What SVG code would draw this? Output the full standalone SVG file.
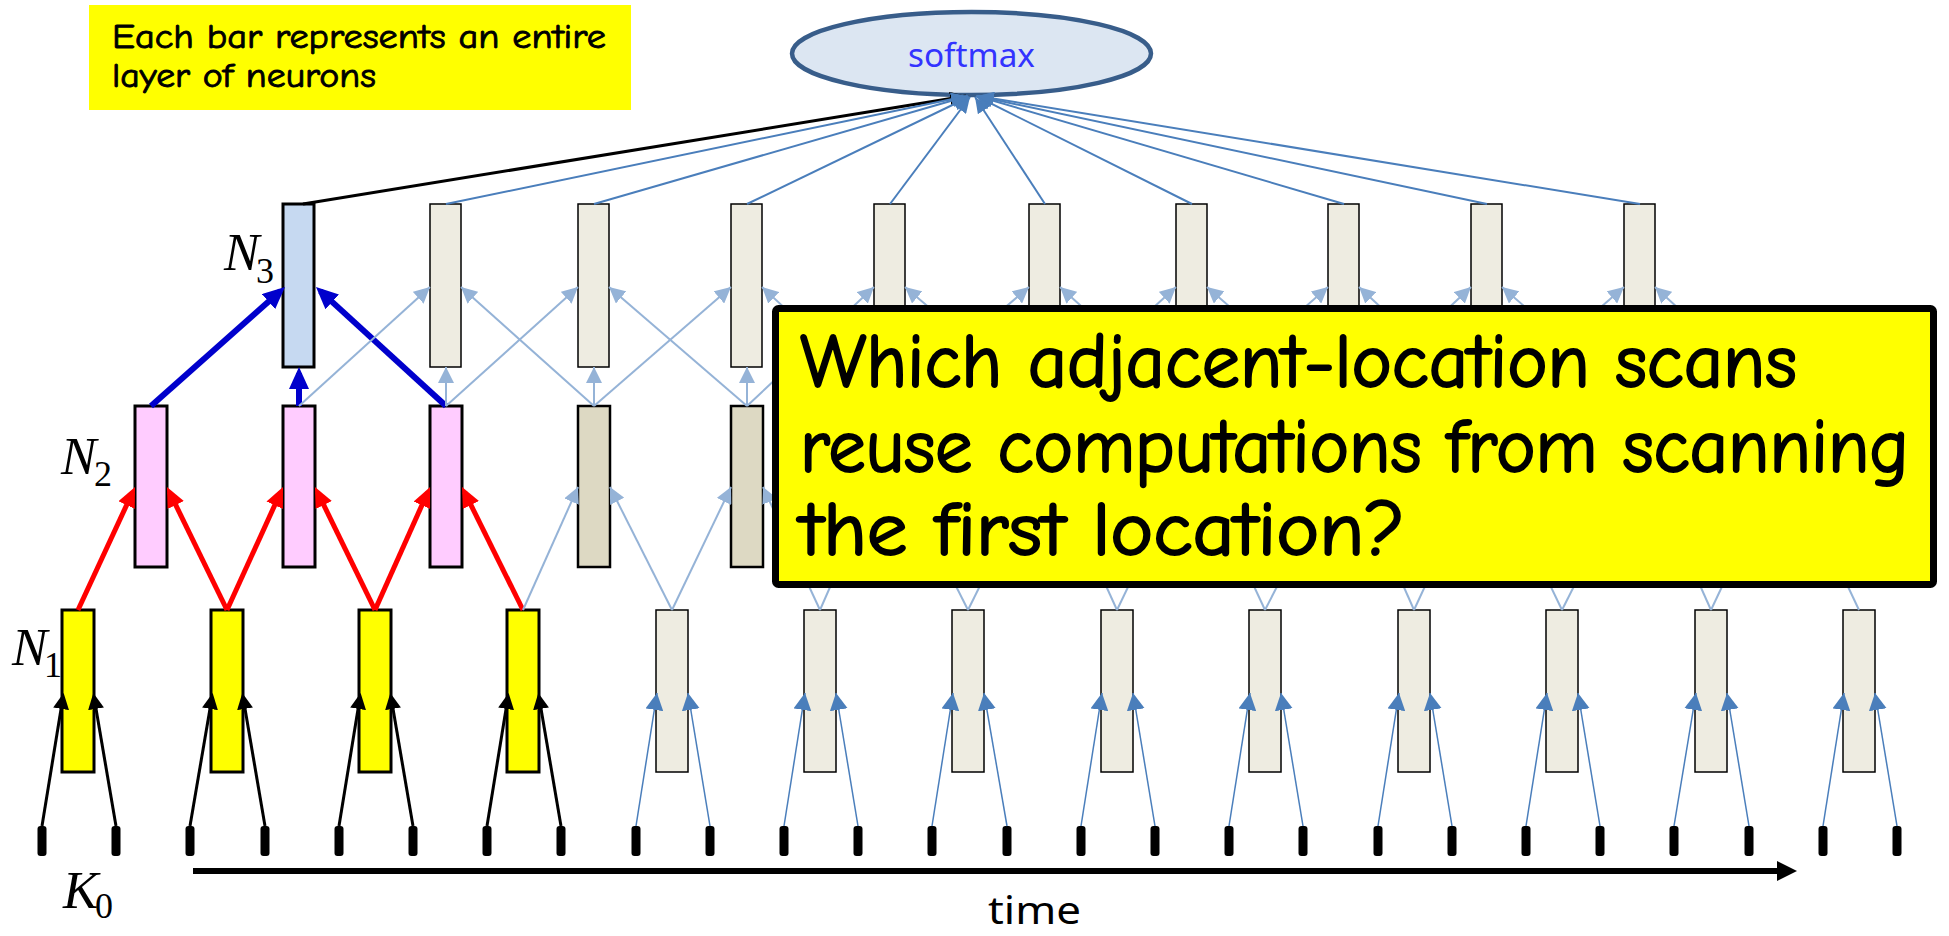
<svg xmlns="http://www.w3.org/2000/svg" width="1949" height="936" viewBox="0 0 1949 936">
<style>
.hl{stroke:#000;stroke-width:3}
.y{fill:#ffff00}
.p{fill:#ffccff}
.b{fill:#c6d9f1}
.bg1{fill:#eeece1;stroke:#000;stroke-width:1.5}
.bg2{fill:#ddd9c3;stroke:#000;stroke-width:2.5}
.tick{fill:#000}
line{fill:none;stroke-linecap:butt}
.ik{stroke:#000;stroke-width:3;marker-end:url(#ahK)}
.ib{stroke:#4a7ebb;stroke-width:1.5;marker-end:url(#ahIn)}
.red{stroke:#ff0000;stroke-width:5;marker-end:url(#ahRed)}
.blu{stroke:#0000cc;stroke-width:6;marker-end:url(#ahBlue)}
.lt{stroke:#95b3d7;stroke-width:2;marker-end:url(#ahLight)}
.sm{stroke:#4a7ebb;stroke-width:2;marker-end:url(#ahSm)}
.smk{stroke:#000;stroke-width:3;marker-end:url(#ahSmK)}
.comic{font-family:'Comic Sans MS','Comic Neue',Lato,'Noto Sans',sans-serif;fill:#000;stroke:#000}
.math{font-family:'Liberation Serif','DejaVu Serif',serif;font-style:italic;font-size:53px;fill:#000}
.sub{font-style:normal;font-size:36px}
</style>
<defs>
<marker id="ahK" markerUnits="userSpaceOnUse" markerWidth="16" markerHeight="16" refX="12" refY="8" orient="auto"><path d="M0,0 L16,8 L0,16 z" fill="#000"/></marker>
<marker id="ahIn" markerUnits="userSpaceOnUse" markerWidth="17" markerHeight="18" refX="17" refY="9" orient="auto"><path d="M0,0 L17,9 L0,18 z" fill="#4a7ebb"/></marker>
<marker id="ahLight" markerUnits="userSpaceOnUse" markerWidth="16" markerHeight="16" refX="16" refY="8" orient="auto"><path d="M0,0 L16,8 L0,16 z" fill="#95b3d7"/></marker>
<marker id="ahRed" markerUnits="userSpaceOnUse" markerWidth="20" markerHeight="18" refX="14" refY="9" orient="auto"><path d="M0,0 L20,9 L0,18 z" fill="#ff0000"/></marker>
<marker id="ahBlue" markerUnits="userSpaceOnUse" markerWidth="22" markerHeight="20" refX="16" refY="10" orient="auto"><path d="M0,0 L22,10 L0,20 z" fill="#0000cc"/></marker>
<marker id="ahSm" markerUnits="userSpaceOnUse" markerWidth="16" markerHeight="14" refX="16" refY="7" orient="auto"><path d="M0,0 L16,7 L0,14 z" fill="#4a7ebb"/></marker>
<marker id="ahSmK" markerUnits="userSpaceOnUse" markerWidth="16" markerHeight="14" refX="16" refY="7" orient="auto"><path d="M0,0 L16,7 L0,14 z" fill="#000"/></marker>
<marker id="ahTime" markerUnits="userSpaceOnUse" markerWidth="20" markerHeight="20" refX="14" refY="10" orient="auto"><path d="M0,0 L20,10 L0,20 z" fill="#000"/></marker>
</defs>
<rect width="1949" height="936" fill="#fff"/>

<g id="note">
<rect x="89" y="5" width="542" height="105" fill="#ffff00"/>
<text class="comic" font-size="34" stroke-width="0.9" x="112" y="48" textLength="494" lengthAdjust="spacingAndGlyphs">Each bar represents an entire</text>
<text class="comic" font-size="34" stroke-width="0.9" x="112" y="87" textLength="264" lengthAdjust="spacingAndGlyphs">layer of neurons</text>
</g>

<g id="softmax">
<ellipse cx="971.5" cy="53.5" rx="179.5" ry="41.5" fill="#dce6f2" stroke="#385d8a" stroke-width="4.5"/>
<text x="908" y="67" font-family="'Noto Sans','Open Sans',sans-serif" font-size="33" fill="#3333ff" textLength="127" lengthAdjust="spacingAndGlyphs">softmax</text>
</g>

<g id="inputs">
<g id="k0"><rect class="tick" x="37.5" y="826" width="9" height="30" rx="3"/></g>
<g id="k1"><rect class="tick" x="111.5" y="826" width="9" height="30" rx="3"/></g>
<g id="k2"><rect class="tick" x="185.5" y="826" width="9" height="30" rx="3"/></g>
<g id="k3"><rect class="tick" x="260.5" y="826" width="9" height="30" rx="3"/></g>
<g id="k4"><rect class="tick" x="334.5" y="826" width="9" height="30" rx="3"/></g>
<g id="k5"><rect class="tick" x="408.5" y="826" width="9" height="30" rx="3"/></g>
<g id="k6"><rect class="tick" x="482.5" y="826" width="9" height="30" rx="3"/></g>
<g id="k7"><rect class="tick" x="556.5" y="826" width="9" height="30" rx="3"/></g>
<g id="k8"><rect class="tick" x="631.5" y="826" width="9" height="30" rx="3"/></g>
<g id="k9"><rect class="tick" x="705.5" y="826" width="9" height="30" rx="3"/></g>
<g id="k10"><rect class="tick" x="779.5" y="826" width="9" height="30" rx="3"/></g>
<g id="k11"><rect class="tick" x="853.5" y="826" width="9" height="30" rx="3"/></g>
<g id="k12"><rect class="tick" x="927.5" y="826" width="9" height="30" rx="3"/></g>
<g id="k13"><rect class="tick" x="1002.5" y="826" width="9" height="30" rx="3"/></g>
<g id="k14"><rect class="tick" x="1076.5" y="826" width="9" height="30" rx="3"/></g>
<g id="k15"><rect class="tick" x="1150.5" y="826" width="9" height="30" rx="3"/></g>
<g id="k16"><rect class="tick" x="1224.5" y="826" width="9" height="30" rx="3"/></g>
<g id="k17"><rect class="tick" x="1298.5" y="826" width="9" height="30" rx="3"/></g>
<g id="k18"><rect class="tick" x="1373.5" y="826" width="9" height="30" rx="3"/></g>
<g id="k19"><rect class="tick" x="1447.5" y="826" width="9" height="30" rx="3"/></g>
<g id="k20"><rect class="tick" x="1521.5" y="826" width="9" height="30" rx="3"/></g>
<g id="k21"><rect class="tick" x="1595.5" y="826" width="9" height="30" rx="3"/></g>
<g id="k22"><rect class="tick" x="1669.5" y="826" width="9" height="30" rx="3"/></g>
<g id="k23"><rect class="tick" x="1744.5" y="826" width="9" height="30" rx="3"/></g>
<g id="k24"><rect class="tick" x="1818.5" y="826" width="9" height="30" rx="3"/></g>
<g id="k25"><rect class="tick" x="1892.5" y="826" width="9" height="30" rx="3"/></g>
</g>

<g id="layer1">
<g id="n1-0"><rect class="y hl" x="62" y="610" width="32" height="162"/></g>
<g id="n1-1"><rect class="y hl" x="211" y="610" width="32" height="162"/></g>
<g id="n1-2"><rect class="y hl" x="359" y="610" width="32" height="162"/></g>
<g id="n1-3"><rect class="y hl" x="507" y="610" width="32" height="162"/></g>
<g id="n1-4"><rect class="bg1" x="656" y="610" width="32" height="162"/></g>
<g id="n1-5"><rect class="bg1" x="804" y="610" width="32" height="162"/></g>
<g id="n1-6"><rect class="bg1" x="952" y="610" width="32" height="162"/></g>
<g id="n1-7"><rect class="bg1" x="1101" y="610" width="32" height="162"/></g>
<g id="n1-8"><rect class="bg1" x="1249" y="610" width="32" height="162"/></g>
<g id="n1-9"><rect class="bg1" x="1398" y="610" width="32" height="162"/></g>
<g id="n1-10"><rect class="bg1" x="1546" y="610" width="32" height="162"/></g>
<g id="n1-11"><rect class="bg1" x="1695" y="610" width="32" height="162"/></g>
<g id="n1-12"><rect class="bg1" x="1843" y="610" width="32" height="162"/></g>
</g>

<g id="layer2">
<g id="n2-0"><rect class="p hl" x="135" y="406" width="32" height="161"/></g>
<g id="n2-1"><rect class="p hl" x="283" y="406" width="32" height="161"/></g>
<g id="n2-2"><rect class="p hl" x="430" y="406" width="32" height="161"/></g>
<g id="n2-3"><rect class="bg2" x="578" y="406" width="32" height="161"/></g>
<g id="n2-4"><rect class="bg2" x="731" y="406" width="32" height="161"/></g>
<g id="n2-5"><rect class="bg2" x="874" y="406" width="32" height="161"/></g>
<g id="n2-6"><rect class="bg2" x="1029" y="406" width="32" height="161"/></g>
<g id="n2-7"><rect class="bg2" x="1176" y="406" width="32" height="161"/></g>
<g id="n2-8"><rect class="bg2" x="1328" y="406" width="32" height="161"/></g>
<g id="n2-9"><rect class="bg2" x="1471" y="406" width="32" height="161"/></g>
<g id="n2-10"><rect class="bg2" x="1624" y="406" width="32" height="161"/></g>
<g id="n2-11"><rect class="bg2" x="1769" y="406" width="32" height="161"/></g>
</g>

<g id="layer3">
<g id="n3-0"><rect class="b hl" x="283" y="204" width="31" height="163"/></g>
<g id="n3-1"><rect class="bg1" x="430" y="204" width="31" height="163"/></g>
<g id="n3-2"><rect class="bg1" x="578" y="204" width="31" height="163"/></g>
<g id="n3-3"><rect class="bg1" x="731" y="204" width="31" height="163"/></g>
<g id="n3-4"><rect class="bg1" x="874" y="204" width="31" height="163"/></g>
<g id="n3-5"><rect class="bg1" x="1029" y="204" width="31" height="163"/></g>
<g id="n3-6"><rect class="bg1" x="1176" y="204" width="31" height="163"/></g>
<g id="n3-7"><rect class="bg1" x="1328" y="204" width="31" height="163"/></g>
<g id="n3-8"><rect class="bg1" x="1471" y="204" width="31" height="163"/></g>
<g id="n3-9"><rect class="bg1" x="1624" y="204" width="31" height="163"/></g>
</g>

<g id="connectors">
<line class="ik" x1="42" y1="826" x2="63" y2="697"/>
<line class="ik" x1="116" y1="826" x2="94" y2="697"/>
<line class="ik" x1="190" y1="826" x2="212" y2="697"/>
<line class="ik" x1="265" y1="826" x2="243" y2="697"/>
<line class="ik" x1="339" y1="826" x2="360" y2="697"/>
<line class="ik" x1="413" y1="826" x2="391" y2="697"/>
<line class="ik" x1="487" y1="826" x2="508" y2="697"/>
<line class="ik" x1="561" y1="826" x2="539" y2="697"/>
<line class="ib" x1="636" y1="826" x2="657" y2="693"/>
<line class="ib" x1="710" y1="826" x2="688" y2="693"/>
<line class="ib" x1="784" y1="826" x2="805" y2="693"/>
<line class="ib" x1="858" y1="826" x2="836" y2="693"/>
<line class="ib" x1="932" y1="826" x2="953" y2="693"/>
<line class="ib" x1="1007" y1="826" x2="984" y2="693"/>
<line class="ib" x1="1081" y1="826" x2="1102" y2="693"/>
<line class="ib" x1="1155" y1="826" x2="1133" y2="693"/>
<line class="ib" x1="1229" y1="826" x2="1250" y2="693"/>
<line class="ib" x1="1303" y1="826" x2="1281" y2="693"/>
<line class="ib" x1="1378" y1="826" x2="1399" y2="693"/>
<line class="ib" x1="1452" y1="826" x2="1430" y2="693"/>
<line class="ib" x1="1526" y1="826" x2="1547" y2="693"/>
<line class="ib" x1="1600" y1="826" x2="1578" y2="693"/>
<line class="ib" x1="1674" y1="826" x2="1696" y2="693"/>
<line class="ib" x1="1749" y1="826" x2="1727" y2="693"/>
<line class="ib" x1="1823" y1="826" x2="1844" y2="693"/>
<line class="ib" x1="1897" y1="826" x2="1875" y2="693"/>
<line class="red" x1="78" y1="610" x2="132.5" y2="492.4"/>
<line class="red" x1="227" y1="610" x2="169.6" y2="492.4"/>
<line class="red" x1="227" y1="610" x2="280.5" y2="492.5"/>
<line class="red" x1="375" y1="610" x2="317.6" y2="492.4"/>
<line class="red" x1="375" y1="610" x2="427.6" y2="492.5"/>
<line class="red" x1="523" y1="610" x2="464.7" y2="492.4"/>
<line class="lt" x1="523" y1="610" x2="578" y2="487"/>
<line class="lt" x1="672" y1="610" x2="610" y2="487"/>
<line class="lt" x1="672" y1="610" x2="731" y2="487"/>
<line class="lt" x1="820" y1="610" x2="763" y2="487"/>
<line class="lt" x1="820" y1="610" x2="874" y2="487"/>
<line class="lt" x1="968" y1="610" x2="906" y2="487"/>
<line class="lt" x1="968" y1="610" x2="1029" y2="487"/>
<line class="lt" x1="1117" y1="610" x2="1061" y2="487"/>
<line class="lt" x1="1117" y1="610" x2="1176" y2="487"/>
<line class="lt" x1="1265" y1="610" x2="1208" y2="487"/>
<line class="lt" x1="1265" y1="610" x2="1328" y2="487"/>
<line class="lt" x1="1414" y1="610" x2="1360" y2="487"/>
<line class="lt" x1="1414" y1="610" x2="1471" y2="487"/>
<line class="lt" x1="1562" y1="610" x2="1503" y2="487"/>
<line class="lt" x1="1562" y1="610" x2="1624" y2="487"/>
<line class="lt" x1="1711" y1="610" x2="1656" y2="487"/>
<line class="lt" x1="1711" y1="610" x2="1769" y2="487"/>
<line class="lt" x1="1859" y1="610" x2="1801" y2="487"/>
<line class="blu" x1="151" y1="406" x2="280.5" y2="291"/>
<line class="blu" x1="299" y1="406" x2="299" y2="373"/>
<line class="blu" x1="446" y1="406" x2="320.4" y2="291.1"/>
<line class="lt" x1="299" y1="406" x2="430" y2="287"/>
<line class="lt" x1="446" y1="406" x2="446" y2="367"/>
<line class="lt" x1="594" y1="406" x2="461" y2="287"/>
<line class="lt" x1="446" y1="406" x2="578" y2="287"/>
<line class="lt" x1="594" y1="406" x2="594" y2="367"/>
<line class="lt" x1="747" y1="406" x2="609" y2="287"/>
<line class="lt" x1="594" y1="406" x2="731" y2="287"/>
<line class="lt" x1="747" y1="406" x2="747" y2="367"/>
<line class="lt" x1="890" y1="406" x2="762" y2="287"/>
<line class="lt" x1="747" y1="406" x2="874" y2="287"/>
<line class="lt" x1="890" y1="406" x2="890" y2="367"/>
<line class="lt" x1="1045" y1="406" x2="905" y2="287"/>
<line class="lt" x1="890" y1="406" x2="1029" y2="287"/>
<line class="lt" x1="1045" y1="406" x2="1045" y2="367"/>
<line class="lt" x1="1192" y1="406" x2="1060" y2="287"/>
<line class="lt" x1="1045" y1="406" x2="1176" y2="287"/>
<line class="lt" x1="1192" y1="406" x2="1192" y2="367"/>
<line class="lt" x1="1344" y1="406" x2="1207" y2="287"/>
<line class="lt" x1="1192" y1="406" x2="1328" y2="287"/>
<line class="lt" x1="1344" y1="406" x2="1344" y2="367"/>
<line class="lt" x1="1487" y1="406" x2="1359" y2="287"/>
<line class="lt" x1="1344" y1="406" x2="1471" y2="287"/>
<line class="lt" x1="1487" y1="406" x2="1487" y2="367"/>
<line class="lt" x1="1640" y1="406" x2="1502" y2="287"/>
<line class="lt" x1="1487" y1="406" x2="1624" y2="287"/>
<line class="lt" x1="1640" y1="406" x2="1640" y2="367"/>
<line class="lt" x1="1785" y1="406" x2="1655" y2="287"/>
<line class="smk" x1="303" y1="204" x2="966" y2="96"/>
<line class="sm" x1="446" y1="204" x2="967" y2="96"/>
<line class="sm" x1="594" y1="204" x2="968" y2="96"/>
<line class="sm" x1="747" y1="204" x2="969" y2="97"/>
<line class="sm" x1="890" y1="204" x2="970" y2="97"/>
<line class="sm" x1="1045" y1="204" x2="975" y2="97"/>
<line class="sm" x1="1192" y1="204" x2="976" y2="96"/>
<line class="sm" x1="1344" y1="204" x2="977" y2="96"/>
<line class="sm" x1="1487" y1="204" x2="977" y2="96"/>
<line class="sm" x1="1640" y1="204" x2="978" y2="96"/>
</g>

<g id="time-axis">
<line x1="193" y1="871" x2="1791" y2="871" stroke="#000" stroke-width="6" marker-end="url(#ahTime)"/>
<text x="988" y="924" font-family="'Noto Sans','Open Sans',sans-serif" font-size="38" fill="#000" textLength="93" lengthAdjust="spacingAndGlyphs">time</text>
</g>

<g id="labels">
<text class="math" x="12" y="665">N<tspan class="sub" x="44" y="677">1</tspan></text>
<text class="math" x="61" y="474">N<tspan class="sub" x="94" y="486">2</tspan></text>
<text class="math" x="224" y="270">N<tspan class="sub" x="256" y="283">3</tspan></text>
<text class="math" x="63" y="908">K<tspan class="sub" x="95" y="918">0</tspan></text>
</g>

<g id="question">
<rect x="775.5" y="308.5" width="1158" height="276" rx="3" fill="#ffff00" stroke="#000" stroke-width="7"/>
<text class="comic" font-size="76" stroke-width="2" x="800" y="387" textLength="997" lengthAdjust="spacingAndGlyphs">Which adjacent-location scans</text>
<text class="comic" font-size="76" stroke-width="2" x="800" y="472" textLength="1109" lengthAdjust="spacingAndGlyphs">reuse computations from scanning</text>
<text class="comic" font-size="76" stroke-width="2" x="800" y="555" textLength="605" lengthAdjust="spacingAndGlyphs">the first location?</text>
</g>
</svg>
